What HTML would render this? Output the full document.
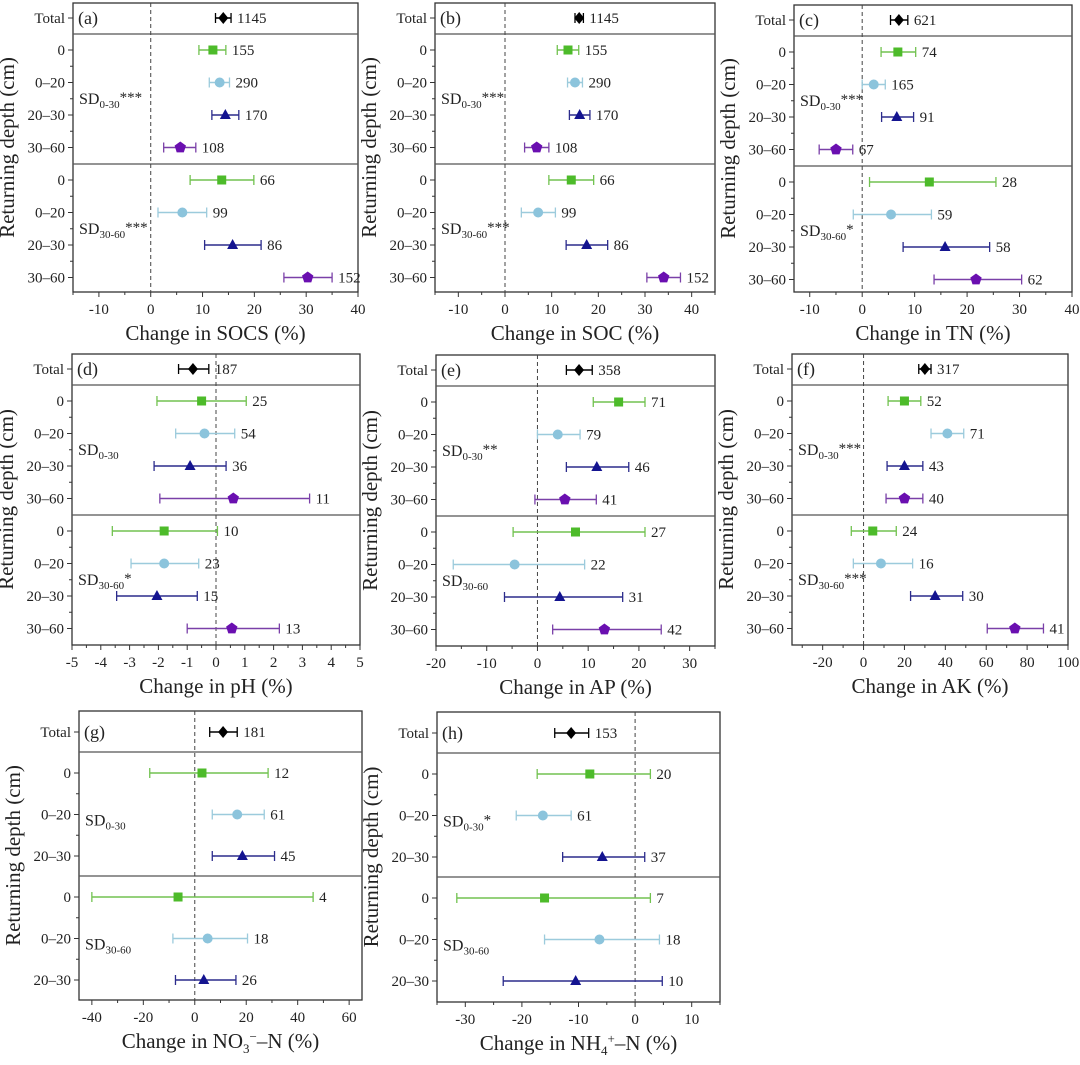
<!DOCTYPE html>
<html><head><meta charset="utf-8"><style>
html,body{margin:0;padding:0;background:#fff}
svg, svg text{font-family:"Liberation Serif","Times New Roman","DejaVu Serif",serif}
</style></head><body>
<svg id="fig" width="1080" height="1060" viewBox="0 0 1080 1060" xmlns="http://www.w3.org/2000/svg" font-family="Liberation Serif, serif"></svg>
<script>
// ---- data (mean, lower CI, upper CI, sample size) ----
const catsFull = ["Total","0","0–20","20–30","30–60","0","0–20","20–30","30–60"];
const catsShort = ["Total","0","0–20","20–30","0","0–20","20–30"];

const aMean=[14,12,13.3,14.4,5.7,13.7,6.1,15.8,30.3];
const aLo=[12.5,9.3,11.3,11.8,2.5,7.6,1.4,10.4,25.7];
const aHi=[15.5,14.5,15.2,17,8.7,19.9,10.8,21.3,35];
const aN=[1145,155,290,170,108,66,99,86,152];

const bMean=[15.9,13.5,15,16,6.8,14.2,7.1,17.5,34];
const bLo=[15,11.2,13.4,13.8,4.2,9.4,3.5,13.1,30.4];
const bHi=[16.8,15.8,16.6,18.2,9.4,19,10.8,22,37.6];
const bN=[1145,155,290,170,108,66,99,86,152];

const cMean=[7,6.8,2.2,6.6,-5,12.8,5.5,15.8,21.7];
const cLo=[5.4,3.6,0,3.7,-8.2,1.4,-1.7,7.8,13.7];
const cHi=[8.7,10.2,4.4,9.8,-1.8,25.5,13.2,24.3,30.4];
const cN=[621,74,165,91,67,28,59,58,62];

const dMean=[-0.8,-0.5,-0.4,-0.9,0.6,-1.8,-1.8,-2.05,0.55];
const dLo=[-1.3,-2.05,-1.4,-2.15,-1.95,-3.6,-2.95,-3.45,-1.0];
const dHi=[-0.25,1.05,0.65,0.35,3.25,0.05,-0.6,-0.65,2.2];
const dN=[187,25,54,36,11,10,23,15,13];

const eMean=[8.2,16,4,11.7,5.4,7.5,-4.5,4.4,13.2];
const eLo=[5.7,11,0,5.7,-0.5,-4.8,-16.6,-6.5,3];
const eHi=[10.8,21.2,8.4,18,11.6,21.2,9.3,16.8,24.4];
const eN=[358,71,79,46,41,27,22,31,42];

const fMean=[30,20,41,20,20,4.5,8.5,35,74];
const fLo=[27,12,33,11.5,11,-6,-5,23,60.5];
const fHi=[33,28,49,29,29,16,24,48.5,88];
const fN=[317,52,71,43,40,24,16,30,41];

const gMean=[11,2.8,16.5,18.5,-6.5,5,3.5];
const gLo=[5.8,-17.5,6.8,6.8,-40,-8.5,-7.5];
const gHi=[16.5,28.5,27,31,46,20.5,16];
const gN=[181,12,61,45,4,18,26];

const hMean=[-11.3,-8,-16.3,-5.8,-16,-6.3,-10.5];
const hLo=[-14.2,-17.3,-21,-12.8,-31.5,-16,-23.3];
const hHi=[-8.2,2.7,-11.3,1.7,2.7,4.3,4.8];
const hN=[153,20,61,37,7,18,10];

const aTicks=[-10,0,10,20,30,40];
const bTicks=[-10,0,10,20,30,40];
const cTicks=[-10,0,10,20,30,40];
const dTicks=[-5,-4,-3,-2,-1,0,1,2,3,4,5];
const eTicks=[-20,-10,0,10,20,30];
const fTicks=[-20,0,20,40,60,80,100];
const gTicks=[-40,-20,0,20,40,60];
const hTicks=[-30,-20,-10,0,10];

// ---- layout ----
const NS="http://www.w3.org/2000/svg";
const svg=document.getElementById('fig');
const FF='"Liberation Serif", "Times New Roman", serif';
function mk(tag,attrs,parent){const e=document.createElementNS(NS,tag);for(const k in attrs)e.setAttribute(k,attrs[k]);if(tag==='text')e.style.fontFamily=FF;(parent||svg).appendChild(e);return e;}

const fillCols=["#000000","#4dbb2a","#8cc4dc","#141490","#6a0fb0"];
const barCols=["#000000","#72c250","#9ccbdc","#2c2c8c","#7a40a8"];

const panels=[
 {id:'a',L:73,R:358,T:3,B:292,x0:-15,x1:40,minor:5,ticks:aTicks,cats:catsFull,mean:aMean,lo:aLo,hi:aHi,n:aN,s1:'***',s2:'***',title:['Change in SOCS (%)']},
 {id:'b',L:435,R:715,T:3,B:292,x0:-15,x1:45,minor:5,ticks:bTicks,cats:catsFull,mean:bMean,lo:bLo,hi:bHi,n:bN,s1:'***',s2:'***',title:['Change in SOC (%)']},
 {id:'c',L:794,R:1072,T:5,B:292,x0:-13,x1:40,minor:5,ticks:cTicks,cats:catsFull,mean:cMean,lo:cLo,hi:cHi,n:cN,s1:'***',s2:'*',title:['Change in TN (%)']},
 {id:'d',L:72,R:360,T:354,B:645,x0:-5,x1:5,minor:0.5,ticks:dTicks,cats:catsFull,mean:dMean,lo:dLo,hi:dHi,n:dN,s1:'',s2:'*',title:['Change in pH (%)']},
 {id:'e',L:436,R:715,T:355,B:646,x0:-20,x1:35,minor:5,ticks:eTicks,cats:catsFull,mean:eMean,lo:eLo,hi:eHi,n:eN,s1:'**',s2:'',title:['Change in AP (%)']},
 {id:'f',L:792,R:1068,T:354,B:645,x0:-35,x1:100,minor:10,ticks:fTicks,cats:catsFull,mean:fMean,lo:fLo,hi:fHi,n:fN,s1:'***',s2:'***',title:['Change in AK (%)']},
 {id:'g',L:79,R:362,T:711,B:1000,x0:-45,x1:65,minor:10,ticks:gTicks,cats:catsShort,mean:gMean,lo:gLo,hi:gHi,n:gN,s1:'',s2:'',title:'no3'},
 {id:'h',L:437,R:720,T:712,B:1002,x0:-35,x1:15,minor:5,ticks:hTicks,cats:catsShort,mean:hMean,lo:hLo,hi:hHi,n:hN,s1:'*',s2:'',title:'nh4'}
];

function rowYs(p){
  const t=p.T;
  if(p.cats.length===9){
    const ys=[t+15];for(let i=0;i<4;i++)ys.push(t+47+32.5*i);for(let i=0;i<4;i++)ys.push(t+177+32.5*i);
    return {ys,sep1:t+31,sep2:t+161,sd1:(ys[2]+ys[3])/2,sd2:(ys[6]+ys[7])/2};
  } else {
    const ys=[t+21];for(let i=0;i<3;i++)ys.push(t+62+41.5*i);for(let i=0;i<3;i++)ys.push(t+186+41.5*i);
    return {ys,sep1:t+41,sep2:t+165,sd1:ys[2]+6,sd2:ys[5]+6};
  }
}

function marker(g,kind,cx,cy,col){
  if(kind===0){mk('polygon',{points:`${cx},${cy-6} ${cx+5},${cy} ${cx},${cy+6} ${cx-5},${cy}`,fill:col},g);}
  else if(kind===1){mk('rect',{x:cx-4.5,y:cy-4.5,width:9,height:9,fill:col},g);}
  else if(kind===2){mk('circle',{cx:cx,cy:cy,r:5,fill:col},g);}
  else if(kind===3){mk('polygon',{points:`${cx},${cy-6} ${cx+5.5},${cy+4} ${cx-5.5},${cy+4}`,fill:col},g);}
  else {let pts=[];for(let k=0;k<5;k++){const an=-Math.PI/2+k*2*Math.PI/5;pts.push((cx+6*Math.cos(an)).toFixed(1)+','+(cy+6*Math.sin(an)).toFixed(1));}mk('polygon',{points:pts.join(' '),fill:col},g);}
}

panels.forEach(p=>{
  const g=mk('g',{});
  
  
  const X=v=>p.L+(v-p.x0)/(p.x1-p.x0)*(p.R-p.L);
  const r=rowYs(p);
  const fr=mk('rect',{x:p.L,y:p.T,width:p.R-p.L,height:p.B-p.T,fill:'none',stroke:'#333',"stroke-width":1.3},g);
  
  
  [r.sep1,r.sep2].forEach(sy=>{
    const l=mk('line',{x1:p.L,x2:p.R,y1:sy,y2:sy,stroke:'#555',"stroke-width":1.2},g);
    
    
  });
  const z=mk('line',{x1:X(0),x2:X(0),y1:p.T,y2:p.B,stroke:'#444',"stroke-width":1,"stroke-dasharray":'4,3'},g);
  
  
  const start=Math.ceil(p.x0/p.minor)*p.minor;
  for(let v=start;v<=p.x1+1e-9;v+=p.minor){
    const major=p.ticks.some(t=>Math.abs(t-v)<1e-6);
    mk('line',{x1:X(v),x2:X(v),y1:p.B,y2:p.B+(major?5:3),stroke:'#333',"stroke-width":1},g);
  }
  p.ticks.forEach(t=>{
    const tx=mk('text',{x:X(t),y:p.B+22,"text-anchor":'middle',"font-size":15,fill:'#222'},g);
    tx.textContent=String(t);
    
    
  });
  r.ys.forEach((y,i)=>{
    mk('line',{x1:p.L-5,x2:p.L,y1:y,y2:y,stroke:'#333',"stroke-width":1},g);
    if(i>0 && i<r.ys.length-1 && i!==(p.cats.length===9?4:3)){
      const my=(y+r.ys[i+1])/2;mk('line',{x1:p.L-3,x2:p.L,y1:my,y2:my,stroke:'#333',"stroke-width":1},g);
    }
    const tl=mk('text',{x:p.L-8,y:y+5,"text-anchor":'end',"font-size":15,fill:'#222'},g);
    tl.textContent=p.cats[i];
    
    
  });
  const pl=mk('text',{x:p.L+5,y:r.ys[0]+6,"font-size":18,fill:'#222'},g);
  pl.textContent='('+p.id+')';
  
  
  [[r.sd1,'0-30',p.s1],[r.sd2,'30-60',p.s2]].forEach(([sy,sub,st])=>{
    const t=mk('text',{x:p.L+6,y:sy+5,"font-size":16,fill:'#222'},g);
    
    
    const a=mk('tspan',{},t);a.textContent='SD';
    const b=mk('tspan',{"font-size":11,dy:4},t);b.textContent=sub;
    if(st){const c=mk('tspan',{"font-size":15,dy:-6},t);c.textContent=st;}
  });
  p.mean.forEach((m,i)=>{
    const y=r.ys[i];
    const kind=(i===0)?0:((i-1)%(p.cats.length===9?4:3))+1;
    const mg=mk('g',{},g);
    
    
    const x1=X(p.lo[i]),x2=X(p.hi[i]);
    mk('line',{x1:x1,x2:x2,y1:y,y2:y,stroke:barCols[kind],"stroke-width":1.6},mg);
    mk('line',{x1:x1,x2:x1,y1:y-5,y2:y+5,stroke:barCols[kind],"stroke-width":1.3},mg);
    mk('line',{x1:x2,x2:x2,y1:y-5,y2:y+5,stroke:barCols[kind],"stroke-width":1.3},mg);
    marker(mg,kind,X(m),y,fillCols[kind]);
    const nt=mk('text',{x:x2+6,y:y+5,"font-size":15,fill:'#222'},mg);
    nt.textContent=String(p.n[i]);
  });
  const yt=mk('text',{x:0,y:0,"text-anchor":'middle',"font-size":21,fill:'#222',transform:`translate(${p.L-59},${(p.T+p.B)/2}) rotate(-90)`},g);
  yt.textContent='Returning depth (cm)';
  
  
  const xt=mk('text',{x:(p.L+p.R)/2,y:p.B+48,"text-anchor":'middle',"font-size":21,fill:'#222'},g);
  
  
  if(p.title==='no3'){
    const a=mk('tspan',{},xt);a.textContent='Change in NO';
    const b=mk('tspan',{"font-size":13,dy:5},xt);b.textContent='3';
    const c=mk('tspan',{"font-size":13,dy:-12},xt);c.textContent='−';
    const d=mk('tspan',{dy:7},xt);d.textContent='–N (%)';
  } else if(p.title==='nh4'){
    const a=mk('tspan',{},xt);a.textContent='Change in NH';
    const b=mk('tspan',{"font-size":13,dy:5},xt);b.textContent='4';
    const c=mk('tspan',{"font-size":13,dy:-12},xt);c.textContent='+';
    const d=mk('tspan',{dy:7},xt);d.textContent='–N (%)';
  } else {xt.textContent=p.title[0];}
});
</script>
</body></html>
